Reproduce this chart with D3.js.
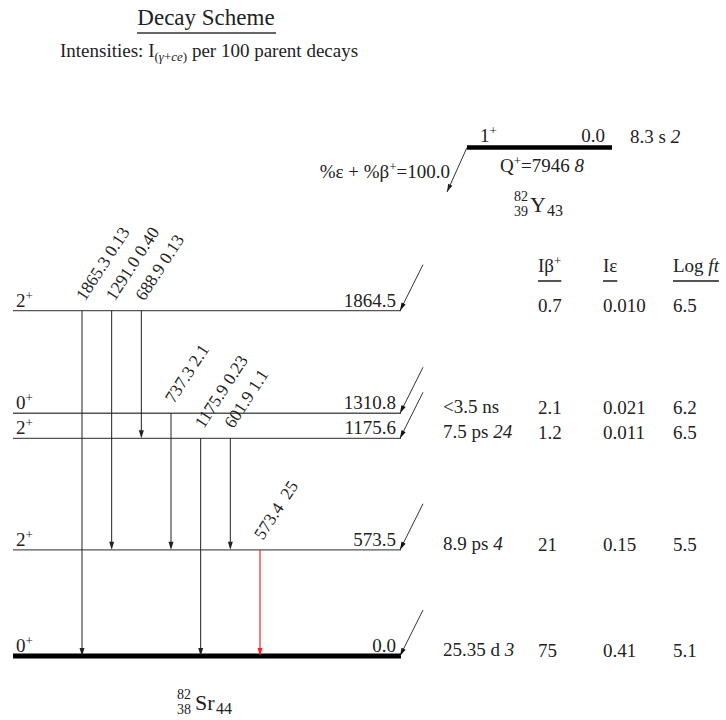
<!DOCTYPE html>
<html>
<head>
<meta charset="utf-8">
<script src="https://cdn.jsdelivr.net/npm/d3@7"></script>
<style>
  body { margin: 0; background: #fff; }
  svg { display: block; font-family: "Liberation Serif", "DejaVu Serif", serif; }
</style>
</head>
<body>
<svg id="chart" width="726" height="720"></svg>
<script>
// ---- data ----
const levelEnergies = [0, 573.5, 1175.6, 1310.8, 1864.5];
const levelLabels = ["0.0", "573.5", "1175.6", "1310.8", "1864.5"];
const levelSpins = ["0", "2", "2", "0", "2"];
const levelParities = ["+", "+", "+", "+", "+"];
const halfLifeValues = ["25.35 d", "8.9 ps", "7.5 ps", "<3.5 ns", ""];
const halfLifeUncs = ["3", "4", "24", "", ""];
const iBetaPlus = ["75", "21", "1.2", "2.1", "0.7"];
const iEC = ["0.41", "0.15", "0.011", "0.021", "0.010"];
const logFt = ["5.1", "5.5", "6.5", "6.2", "6.5"];

const gammaEnergies = ["1865.3", "1291.0", "688.9", "737.3", "1175.9", "601.9", "573.4"];
const gammaIntensities = ["0.13", "0.40", "0.13", "2.1", "0.23", "1.1", "25"];
const gammaFrom = [1864.5, 1864.5, 1864.5, 1310.8, 1175.6, 1175.6, 573.5];
const gammaTo = [0, 573.5, 1175.6, 573.5, 0, 573.5, 0];
const gammaStrongest = [false, false, false, false, false, false, true];

const parentSpin = "1", parentParity = "+", parentEnergy = "0.0";
const parentHalfLife = "8.3 s", parentHalfLifeUnc = "2";
const qValue = "7946", qUnc = "8";
const branching = "100.0";

// ---- layout ----
const svg = d3.select("#chart");
const y = d3.scaleLinear().domain([0, 1864.5]).range([656, 310.7]);
const gx = d3.scalePoint().domain(d3.range(gammaEnergies.length)).range([82, 260]);
const levelX0 = 13, levelX1 = 401;
const FS = 19;
const SUP = 13;
const lineCol = "#555";

// title
svg.append("text").attr("x", 206).attr("y", 25).attr("text-anchor", "middle")
  .attr("font-size", 23).attr("fill", "#222").text("Decay Scheme");
svg.append("line").attr("x1", 137).attr("x2", 276).attr("y1", 33).attr("y2", 33)
  .attr("stroke", "#666").attr("stroke-width", 2);
const sub = svg.append("text").attr("x", 60).attr("y", 57).attr("font-size", 19).attr("fill", "#222");
sub.append("tspan").text("Intensities: I");
sub.append("tspan").attr("font-size", 13).attr("dy", 4).text("(");
sub.append("tspan").attr("font-size", 13).attr("font-style", "italic").text("γ");
sub.append("tspan").attr("font-size", 13).text("+");
sub.append("tspan").attr("font-size", 13).attr("font-style", "italic").text("ce");
sub.append("tspan").attr("font-size", 13).text(")");
sub.append("tspan").attr("dy", -4).text(" per 100 parent decays");

// parent level
const py = 147.5;
svg.append("line").attr("x1", 467).attr("x2", 612).attr("y1", py).attr("y2", py)
  .attr("stroke", "#000").attr("stroke-width", 4.5);
const ps = svg.append("text").attr("x", 480).attr("y", 142).attr("font-size", FS).attr("fill", "#222");
ps.append("tspan").text(parentSpin);
ps.append("tspan").attr("font-size", SUP).attr("dy", -7).text(parentParity);
svg.append("text").attr("x", 605).attr("y", 142).attr("text-anchor", "end")
  .attr("font-size", FS).attr("fill", "#222").text(parentEnergy);
const phl = svg.append("text").attr("x", 630).attr("y", 143).attr("font-size", FS).attr("fill", "#222");
phl.append("tspan").text(parentHalfLife + " ");
phl.append("tspan").attr("font-style", "italic").text(parentHalfLifeUnc);
const qt = svg.append("text").attr("x", 500).attr("y", 172).attr("font-size", FS).attr("fill", "#222");
qt.append("tspan").text("Q");
qt.append("tspan").attr("font-size", SUP).attr("dy", -7).text("+");
qt.append("tspan").attr("dy", 7).text("=" + qValue + " ");
qt.append("tspan").attr("font-style", "italic").text(qUnc);
const br = svg.append("text").attr("x", 450).attr("y", 178).attr("text-anchor", "end")
  .attr("font-size", FS).attr("fill", "#222");
br.append("tspan").text("%ε + %β");
br.append("tspan").attr("font-size", SUP).attr("dy", -7).text("+");
br.append("tspan").attr("dy", 7).text("=" + branching);

function arrowHead(g, x, yy, dx, dy, col, len, half) {
  const n = Math.hypot(dx, dy), ux = dx / n, uy = dy / n;
  const bx = x - ux * len, by = yy - uy * len;
  g.append("path")
    .attr("d", `M${x},${yy}L${bx - uy * half},${by + ux * half}L${bx + uy * half},${by - ux * half}Z`)
    .attr("fill", col);
}
// parent decay arrow
svg.append("line").attr("x1", 467).attr("y1", py).attr("x2", 447).attr("y2", 192)
  .attr("stroke", "#333").attr("stroke-width", 1);
arrowHead(svg, 447, 192, -20, 44.5, "#222", 8, 2.3);

// nuclide labels
function nuclide(x, yb, A, Z, sym, N, gap, symW) {
  const g = svg.append("g").attr("fill", "#222");
  g.append("text").attr("x", x).attr("y", yb - 11).attr("font-size", 14).text(A);
  g.append("text").attr("x", x).attr("y", yb + 4).attr("font-size", 14).text(Z);
  g.append("text").attr("x", x + gap).attr("y", yb).attr("font-size", 22).text(sym);
  g.append("text").attr("x", x + gap + symW).attr("y", yb + 4).attr("font-size", 16).text(N);
}
nuclide(514, 212, "82", "39", "Y", "43", 16, 17);
nuclide(177, 710, "82", "38", "Sr", "44", 18, 21);

// levels
const lv = svg.append("g");
levelEnergies.forEach((e, i) => {
  const yy = y(e);
  const ground = e === 0;
  lv.append("line").attr("x1", levelX0).attr("x2", levelX1).attr("y1", yy).attr("y2", yy)
    .attr("stroke", ground ? "#000" : lineCol).attr("stroke-width", ground ? 5 : 1.3);
  const sp = lv.append("text").attr("x", 16).attr("y", yy - 4).attr("font-size", FS).attr("fill", "#222");
  sp.append("tspan").text(levelSpins[i]);
  sp.append("tspan").attr("font-size", SUP).attr("dy", -7).text(levelParities[i]);
  lv.append("text").attr("x", 396).attr("y", yy - 4).attr("text-anchor", "end")
    .attr("font-size", FS).attr("fill", "#222").text(levelLabels[i]);
  // feeding arrow
  lv.append("line").attr("x1", levelX1 + 22).attr("y1", yy - 46).attr("x2", levelX1 - 1).attr("y2", yy)
    .attr("stroke", "#333").attr("stroke-width", 1);
  arrowHead(lv, levelX1 - 1, yy, -23, 46, "#111", 8, 2.3);
  // table values
  const hl = lv.append("text").attr("x", 443).attr("y", yy).attr("font-size", FS).attr("fill", "#222");
  if (halfLifeValues[i]) {
    hl.append("tspan").text(halfLifeValues[i] + (halfLifeUncs[i] ? " " : ""));
    if (halfLifeUncs[i]) hl.append("tspan").attr("font-style", "italic").text(halfLifeUncs[i]);
  }
  lv.append("text").attr("x", 538).attr("y", yy + 1).attr("font-size", FS).attr("fill", "#222").text(iBetaPlus[i]);
  lv.append("text").attr("x", 603).attr("y", yy + 1).attr("font-size", FS).attr("fill", "#222").text(iEC[i]);
  lv.append("text").attr("x", 673).attr("y", yy + 1).attr("font-size", FS).attr("fill", "#222").text(logFt[i]);
});

// table headers
const hdrY = 272;
const headers = [
  {x: 538, parts: [["I", null], ["β", null], ["+", "sup"]]},
  {x: 603, parts: [["Iε", null]]},
  {x: 673, parts: [["Log ", null], ["ft", "it"]]}
];
headers.forEach(h => {
  const t = svg.append("text").attr("x", h.x).attr("y", hdrY).attr("font-size", FS).attr("fill", "#222");
  h.parts.forEach(p => {
    const ts = t.append("tspan").text(p[0]);
    if (p[1] === "sup") ts.attr("font-size", SUP).attr("dy", -7);
    if (p[1] === "it") ts.attr("font-style", "italic");
  });
  const w = t.node().getComputedTextLength();
  svg.append("line").attr("x1", h.x).attr("x2", h.x + w).attr("y1", hdrY + 9).attr("y2", hdrY + 9)
    .attr("stroke", "#555").attr("stroke-width", 2);
});

// gammas
const gg = svg.append("g");
gammaEnergies.forEach((g, i) => {
  const x = gx(i);
  const y1 = y(gammaFrom[i]), y2 = y(gammaTo[i]);
  const col = gammaStrongest[i] ? "#ff2020" : "#222";
  gg.append("line").attr("x1", x).attr("x2", x).attr("y1", y1).attr("y2", y2 - 2)
    .attr("stroke", col).attr("stroke-width", gammaStrongest[i] ? 1.2 : 1);
  arrowHead(gg, x, y2, 0, 1, col, 8, 2.5);
  gg.append("text")
    .attr("transform", `translate(${x + 3},${y1 - 9}) rotate(-57)`)
    .attr("font-size", 17.5).attr("fill", "#222")
    .attr("xml:space", "preserve")
    .text(g + (gammaStrongest[i] ? "  " : " ") + gammaIntensities[i]);
});
</script>
</body>
</html>
